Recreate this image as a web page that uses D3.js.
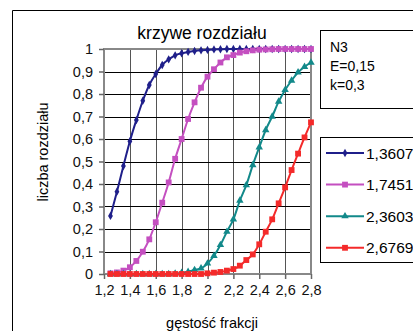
<!DOCTYPE html>
<html>
<head>
<meta charset="utf-8">
<script src="https://cdn.jsdelivr.net/npm/d3@7"></script>
<style>
  body { margin: 0; background: #fff; }
  svg { display: block; font-family: "Liberation Sans", Arial, sans-serif; }
</style>
</head>
<body>
<svg width="413" height="331"></svg>
<script>
// gęstość frakcji (x), one point every 0,05
var density = [1.25, 1.3, 1.35, 1.4, 1.45, 1.5, 1.55, 1.6, 1.65, 1.7, 1.75, 1.8, 1.85, 1.9, 1.95, 2,
               2.05, 2.1, 2.15, 2.2, 2.25, 2.3, 2.35, 2.4, 2.45, 2.5, 2.55, 2.6, 2.65, 2.7, 2.75, 2.8];

var s13607 = [0.258, 0.366, 0.48, 0.59, 0.684, 0.77, 0.84, 0.889, 0.929, 0.954, 0.972, 0.981, 0.987, 0.991, 0.994, 0.996,
              0.998, 0.999, 1, 1, 1, 1, 1, 1, 1, 1, 1, 1, 1, 1, 1, 1];
var s17451 = [0.003, 0.007, 0.015, 0.03, 0.058, 0.099, 0.154, 0.23, 0.317, 0.407, 0.512, 0.6, 0.689, 0.763, 0.828, 0.877,
              0.91, 0.94, 0.963, 0.973, 0.984, 0.99, 0.994, 0.997, 0.998, 0.999, 1, 1, 1, 1, 1, 1];
var s23603 = [0, 0, 0, 0, 0, 0, 0, 0, 0, 0, 0.002, 0.005, 0.01, 0.018, 0.025, 0.047,
              0.081, 0.129, 0.188, 0.243, 0.326, 0.395, 0.484, 0.563, 0.64, 0.70, 0.766, 0.818, 0.86, 0.896, 0.921, 0.94];
var s26769 = [0, 0, 0, 0, 0, 0, 0, 0, 0, 0, 0, 0, 0, 0, 0, 0.003,
              0.006, 0.009, 0.015, 0.022, 0.037, 0.062, 0.087, 0.132, 0.188, 0.243, 0.314, 0.385, 0.462, 0.535, 0.607, 0.674];

var seriesNames = ["1,3607", "1,7451", "2,3603", "2,6769"];
var xTicks = [1.2, 1.4, 1.6, 1.8, 2, 2.2, 2.4, 2.6, 2.8];
var yTicks = [0, 0.1, 0.2, 0.3, 0.4, 0.5, 0.6, 0.7, 0.8, 0.9, 1];
var params = ["N3", "E=0,15", "k=0,3"];

var series = [
  {name: seriesNames[0], values: s13607, color: "#1f1f8a", shape: "diamond"},
  {name: seriesNames[1], values: s17451, color: "#c44fc0", shape: "square"},
  {name: seriesNames[2], values: s23603, color: "#12898a", shape: "triangle"},
  {name: seriesNames[3], values: s26769, color: "#f42a2a", shape: "square"}
];

var svg = d3.select("svg");
var fmt = function(v) { return String(v).replace(".", ","); };

// outer chart border (right and bottom run off the picture)
svg.append("path")
    .attr("d", "M12.5,340V10.5H420")
    .attr("fill", "none")
    .attr("stroke", "#000");

var x = d3.scaleLinear().domain([1.2, 2.8]).range([104, 311]);
var y = d3.scaleLinear().domain([0, 1]).range([274, 49]);

// grid
svg.append("g").selectAll("line")
    .data(xTicks.slice(1, -1))
    .enter().append("line")
    .attr("x1", function(d) { return Math.round(x(d)) + 0.5; })
    .attr("x2", function(d) { return Math.round(x(d)) + 0.5; })
    .attr("y1", y(1)).attr("y2", y(0))
    .attr("stroke", "#555");
svg.append("g").selectAll("line")
    .data(yTicks.slice(1, -1))
    .enter().append("line")
    .attr("y1", function(d) { return Math.round(y(d)) + 0.5; })
    .attr("y2", function(d) { return Math.round(y(d)) + 0.5; })
    .attr("x1", x(1.2)).attr("x2", x(2.8))
    .attr("stroke", "#000");

// plot area frame
svg.append("rect")
    .attr("x", x(1.2)).attr("y", y(1))
    .attr("width", x(2.8) - x(1.2)).attr("height", y(0) - y(1))
    .attr("fill", "none")
    .attr("stroke", "#888")
    .attr("stroke-width", 2);

// axes
var xAxis = svg.append("g")
    .attr("transform", "translate(0," + y(0) + ")")
    .call(d3.axisBottom(x).tickValues(xTicks).tickFormat(fmt).tickSize(5).tickPadding(6));
var yAxis = svg.append("g")
    .attr("transform", "translate(" + x(1.2) + ",0)")
    .call(d3.axisLeft(y).tickValues(yTicks).tickFormat(fmt).tickSize(5).tickPadding(6));
[xAxis, yAxis].forEach(function(a) {
  a.select(".domain").remove();
  a.selectAll("line").attr("stroke", "#666").attr("stroke-width", 1.5);
  a.selectAll("text").attr("fill", "#111").style("font-size", "14.5px")
      .style("font-family", "'Liberation Sans', Arial, sans-serif");
});

// markers
function marker(shape) {
  if (shape == "diamond") return d3.symbol().type(d3.symbolDiamond).size(20)();
  if (shape == "triangle") return d3.symbol().type(d3.symbolTriangle).size(24)();
  return d3.symbol().type(d3.symbolSquare).size(34)();
}

var line = d3.line()
    .x(function(d, i) { return x(density[i]); })
    .y(function(d) { return y(d); })
    .curve(d3.curveMonotoneX);

series.forEach(function(s) {
  var g = svg.append("g");
  g.append("path")
      .attr("d", line(s.values))
      .attr("fill", "none")
      .attr("stroke", s.color)
      .attr("stroke-width", 2);
  g.selectAll("path.m")
      .data(s.values)
      .enter().append("path")
      .attr("class", "m")
      .attr("transform", function(d, i) { return "translate(" + x(density[i]) + "," + y(d) + ")"; })
      .attr("d", marker(s.shape))
      .attr("fill", s.color);
});

// title and axis labels
svg.append("text")
    .attr("x", 202).attr("y", 39)
    .attr("text-anchor", "middle")
    .style("font-size", "17.5px")
    .text("krzywe rozdziału");
svg.append("text")
    .attr("x", 212).attr("y", 328)
    .attr("text-anchor", "middle")
    .style("font-size", "14.5px")
    .text("gęstość frakcji");
svg.append("text")
    .attr("transform", "translate(48,152) rotate(-90)")
    .attr("text-anchor", "middle")
    .style("font-size", "14.5px")
    .text("liczba rozdziału");

// parameter box
svg.append("rect")
    .attr("x", 320.5).attr("y", 30.5)
    .attr("width", 120).attr("height", 78)
    .attr("fill", "#fff").attr("stroke", "#000");
svg.append("g").selectAll("text")
    .data(params)
    .enter().append("text")
    .attr("x", 330)
    .attr("y", function(d, i) { return 52 + i * 19; })
    .style("font-size", "14px")
    .text(function(d) { return d; });

// legend
svg.append("rect")
    .attr("x", 320.5).attr("y", 137.5)
    .attr("width", 120).attr("height", 125)
    .attr("fill", "#fff").attr("stroke", "#000");
var leg = svg.append("g").selectAll("g")
    .data(series)
    .enter().append("g")
    .attr("transform", function(d, i) { return "translate(0," + (153 + i * 31.6) + ")"; });
leg.append("line")
    .attr("x1", 326).attr("x2", 364)
    .attr("stroke", function(d) { return d.color; })
    .attr("stroke-width", 2);
leg.append("path")
    .attr("transform", "translate(345,0)")
    .attr("d", function(d) { return marker(d.shape); })
    .attr("fill", function(d) { return d.color; });
leg.append("text")
    .attr("x", 366).attr("y", 5.5)
    .style("font-size", "15.5px")
    .text(function(d) { return d.name; });
</script>
</body>
</html>
